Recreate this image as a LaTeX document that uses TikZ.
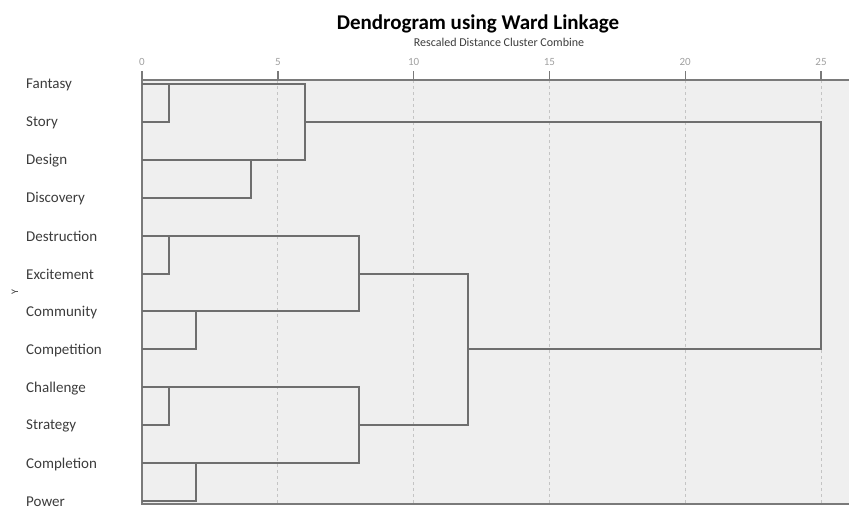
\documentclass[tikz,border=0pt]{standalone}
\usepackage{fontspec}
\setmainfont{Carlito}
\definecolor{plotbg}{HTML}{EFEFEF}
\definecolor{linkgray}{HTML}{6E6E6E}
\definecolor{framegray}{HTML}{7A7A7A}
\definecolor{gridgray}{HTML}{C4C4C4}
\definecolor{labelgray}{HTML}{3C3C3C}
\definecolor{tickgray}{HTML}{A0A0A0}

\begin{document}
\begin{tikzpicture}[x=1pt,y=-1pt,
    link/.style={draw=linkgray,line width=2pt,line join=miter},
    frame/.style={draw=framegray,line width=1.4pt},
    grid/.style={draw=gridgray,line width=0.9pt,dash pattern=on 3pt off 3pt},
    leaf/.style={anchor=west,inner sep=0pt,text=labelgray,font=\fontsize{15}{18}\selectfont},
    ticklabel/.style={inner sep=0pt,text=tickgray,font=\fontsize{11}{13}\selectfont}]
   \useasboundingbox (0,0) rectangle (849,507);
   \fill[plotbg] (142,80) rectangle (849,504);
   \foreach \x in {5, 10, ..., 25} % edit here for the grid lines
     \draw[grid] (142+27.16*\x,80) -- (142+27.16*\x,504);
   \foreach \x in {0, 5, ..., 25} % edit here for the ticks and numbers
     \draw[frame,shift={(142+27.16*\x,80)}] (0,0) -- (0,-9)
       node[ticklabel,above=5pt] (tick\x) {\x};
   \draw[frame] (849,80) -- (142,80) -- (142,504) -- (849,504);
   % titles
   \node[font=\bfseries\fontsize{21}{25}\selectfont] (title) at (478,24) {Dendrogram using Ward Linkage};
   \node[font=\fontsize{12}{14}\selectfont,text=labelgray] (subtitle) at (499,42) {Rescaled Distance Cluster Combine};
   \node[rotate=90,font=\fontsize{10}{12}\selectfont,text=labelgray] (ylabel) at (15,292) {Y};
   % leaves
   \foreach \name [count=\i from 0] in {Fantasy, Story, Design, Discovery, Destruction, Excitement,
       Community, Competition, Challenge, Strategy, Completion, Power}
     \node[leaf] (leaf\i) at (26,85+37.9*\i) {\name};
   % links: from dist / top row / merge dist / bottom row / from dist
   \begin{scope}[shift={(142,84)},x=27.16pt,y=-37.9pt]
     \foreach \da/\a/\d/\b/\db in {0/0/1/1/0, 0/2/4/3/0, 1/0/6/2/4,
         0/4/1/5/0, 0/6/2/7/0, 1/4/8/6/2,
         0/8/1/9/0, 0/10/2/11/0, 1/8/8/10/2,
         8/5/12/9/8, 6/1/25/7/12}
       \draw[link] (\da,\a) -- (\d,\a) -- (\d,\b) -- (\db,\b);
   \end{scope}
\end{tikzpicture}
\end{document}
